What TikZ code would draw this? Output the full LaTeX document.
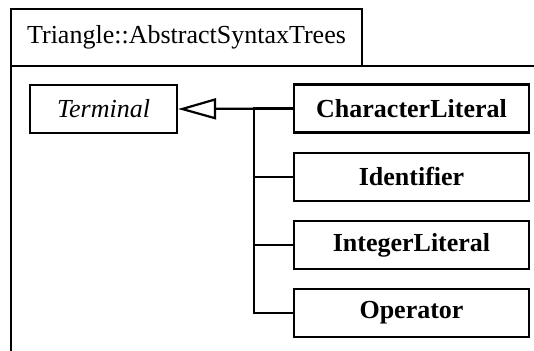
\documentclass[tikz,border=0pt]{standalone}
\usepackage{fontspec}
\setmainfont{Liberation Serif}
\usetikzlibrary{positioning,arrows.meta}

\begin{document}
\begin{tikzpicture}[
    x=0.5pt, y=-0.5pt,
    node distance=9pt,
    font=\fontsize{13}{15}\selectfont,
    frame/.style={line width=1.2pt},
    pkgtab/.style={rectangle, draw, line width=1.2pt, outer sep=0pt, minimum width=175.5pt, minimum height=28.5pt},
    abstract/.style={rectangle, draw, line width=1.1pt, minimum width=73.5pt, minimum height=24pt, font=\fontsize{13}{15}\selectfont\itshape},
    concrete/.style={rectangle, draw, line width=1.1pt, minimum width=117.5pt, minimum height=24pt, font=\fontsize{13}{15}\selectfont\bfseries},
    inherit/.style={-{Triangle[open, length=19pt, width=10.5pt]}, line width=1.1pt},
    branch/.style={line width=1.1pt}
]
    \useasboundingbox (0,0) rectangle (534,350);

    % package frame
    \node[pkgtab] (tab) at (186.5,37.5) {Triangle::AbstractSyntaxTrees};
    \coordinate (bodyright) at (536,66);
    \coordinate (bodybottom) at (11,352);
    \draw[frame] (bodybottom) -- (tab.south west) -- (bodyright);

    % classes
    \node[abstract] (terminal) at (103.5,109) {Terminal};
    \node[concrete] (charlit) at (411.5,108.5) {CharacterLiteral};
    \node[concrete, below=of charlit] (ident) {Identifier};
    \node[concrete, below=of ident] (intlit) {IntegerLiteral};
    \node[concrete, below=of intlit] (oper) {Operator};

    % generalisation
    \draw[inherit] (charlit.west) -- (terminal.east);
    \draw[branch] (oper.west) -- ++(-39,0) |- (charlit.west);
    \draw[branch] (ident.west) -- ++(-39,0);
    \draw[branch] (intlit.west) -- ++(-39,0);
\end{tikzpicture}
\end{document}
